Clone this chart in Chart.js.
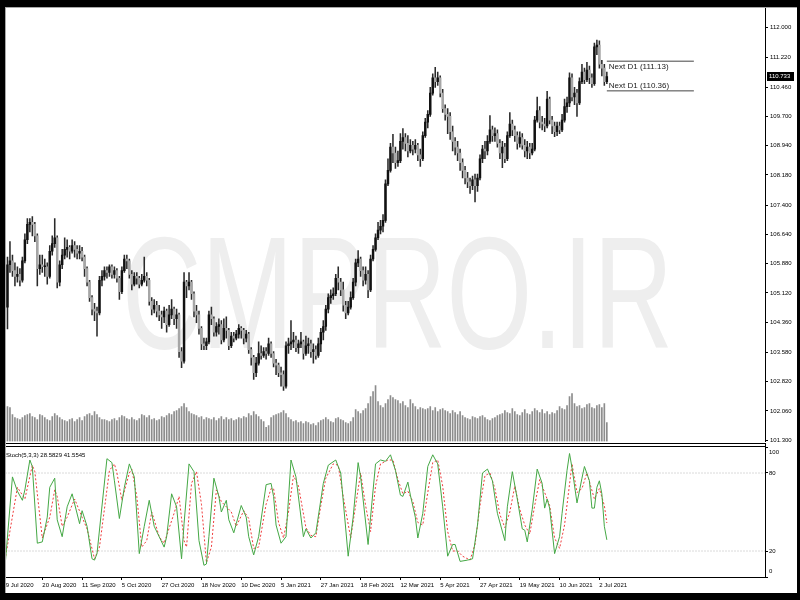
<!DOCTYPE html>
<html>
<head>
<meta charset="utf-8">
<script src="https://cdn.jsdelivr.net/npm/chart.js@4.4.1/dist/chart.umd.min.js"></script>
<style>
html, body { margin: 0; padding: 0; background: #000; }
#wrap { position: relative; width: 800px; height: 600px; overflow: hidden; }
#main { position: absolute; left: 0; top: 0; }
#osc { position: absolute; left: 0; top: 447px; }
</style>
</head>
<body>
<div id="wrap">
  <canvas id="main" width="800" height="447"></canvas>
  <canvas id="osc" width="800" height="153"></canvas>
</div>
<script>
// USDJPY D1, bar index 0 = 29 Jul 2020 (first drawn bar is index 1)
const firstBar = 1;

const opens = [
  105.10,104.75,105.85,105.95,105.70,105.55,105.60,105.45,105.95,106.50,
  106.90,106.95,106.90,106.60,105.75,105.85,105.80,105.80,105.55,106.20,
  106.40,106.55,105.40,105.85,106.10,106.25,106.30,106.20,106.35,106.25,
  106.15,106.20,106.05,105.75,105.40,105.00,104.70,104.65,104.60,105.45,
  105.55,105.70,105.65,105.80,105.60,105.70,105.50,105.15,105.70,106.00,
  105.95,105.60,105.35,105.55,105.50,105.35,105.45,105.55,105.45,104.90,
  104.70,104.80,104.65,104.55,104.50,104.65,104.30,104.55,104.70,104.45,
  104.55,103.60,103.35,105.40,105.30,105.40,105.10,104.65,104.55,104.20,
  103.80,103.75,103.85,104.55,104.45,104.10,104.25,104.30,103.90,104.20,
  104.15,103.75,104.00,103.95,104.05,104.20,104.15,103.95,104.05,103.65,
  103.45,103.05,103.30,103.55,103.50,103.60,103.55,103.80,103.55,103.30,
  103.25,103.05,103.00,102.70,103.75,103.80,103.85,103.90,103.70,103.80,
  103.85,103.55,103.75,103.80,103.60,103.65,103.50,103.80,104.10,104.25,
  104.70,105.00,105.05,105.10,105.50,105.40,105.20,104.80,104.60,104.75,
  105.00,105.40,105.90,106.00,105.70,105.45,105.60,105.20,106.00,106.25,
  106.55,106.75,106.85,107.00,107.95,108.30,108.90,108.75,108.50,108.55,
  109.05,109.15,109.00,108.80,108.95,108.85,108.95,108.70,108.60,109.20,
  109.55,109.75,110.30,110.70,110.60,110.70,110.30,109.90,109.75,109.70,
  109.30,109.05,108.90,108.75,108.50,108.30,108.10,108.00,107.90,108.05,
  107.90,108.10,108.60,108.85,108.80,109.05,109.35,109.20,109.25,109.00,
  108.75,108.90,108.60,109.20,109.50,109.35,109.20,109.00,109.15,108.95,
  108.80,108.90,108.75,108.85,109.60,109.85,109.55,109.50,109.45,110.15,
  109.60,109.45,109.30,109.45,109.35,109.60,109.95,110.05,110.70,110.20,
  110.30,110.05,110.60,110.85,110.65,110.90,110.70,110.55,111.50,111.55,
  111.05,110.95,110.60
];
const highs = [
  105.30,106.05,106.45,106.10,105.90,105.80,105.75,106.05,106.65,107.05,
  107.05,107.10,106.95,106.65,106.10,106.10,106.00,105.90,106.35,106.60,
  107.05,106.60,105.95,106.25,106.55,106.50,106.35,106.50,106.45,106.35,
  106.35,106.30,106.10,105.80,105.45,105.05,104.85,104.75,105.55,105.70,
  105.80,105.80,105.85,105.85,105.80,105.75,105.55,105.80,106.10,106.10,
  106.00,105.70,105.65,105.65,105.55,105.60,106.05,105.65,105.50,105.00,
  104.95,104.90,104.80,104.65,104.75,104.70,104.80,104.95,104.75,104.70,
  104.60,103.70,105.65,105.45,105.65,105.45,105.15,104.80,104.65,104.25,
  103.95,103.95,104.65,104.75,104.50,104.35,104.45,104.40,104.45,104.50,
  104.20,104.10,104.10,104.15,104.30,104.25,104.20,104.15,104.10,103.70,
  103.50,103.45,103.85,103.75,103.70,103.70,103.95,103.85,103.60,103.40,
  103.30,103.20,103.10,103.85,103.95,104.40,104.10,104.00,103.90,104.10,
  103.90,104.00,103.95,103.90,103.80,103.75,103.95,104.20,104.40,104.80,
  105.10,105.20,105.25,105.60,105.80,105.50,105.40,104.90,104.90,105.15,
  105.50,106.00,106.22,106.05,105.80,105.80,105.70,106.10,106.35,106.65,
  106.95,107.00,107.15,108.05,108.60,109.00,109.23,108.90,108.80,109.25,
  109.38,109.25,109.20,109.10,109.05,109.10,109.00,108.85,109.30,109.65,
  109.85,110.45,110.80,110.97,110.85,110.75,110.40,110.00,109.90,109.80,
  109.45,109.15,109.05,108.85,108.60,108.40,108.25,108.10,108.15,108.20,
  108.20,108.70,108.95,109.05,109.20,109.72,109.45,109.40,109.35,109.10,
  109.05,109.00,109.30,109.80,109.60,109.45,109.30,109.30,109.25,109.10,
  109.05,109.00,109.00,109.70,110.20,109.95,109.70,109.65,110.35,110.20,
  109.70,109.55,109.55,109.55,109.75,110.15,110.20,110.83,110.80,110.45,
  110.40,110.70,111.05,110.95,111.10,111.00,110.80,111.60,111.68,111.66,
  111.15,111.05,110.85
];
const lows = [
  104.70,104.19,105.65,105.55,105.30,105.40,105.30,105.40,105.90,106.40,
  106.70,106.60,106.45,105.30,105.60,105.65,105.55,105.35,105.50,106.10,
  106.30,105.25,105.30,105.75,106.00,106.05,106.00,106.15,106.05,106.00,
  106.00,105.95,105.55,105.30,104.90,104.55,104.40,104.00,104.55,105.30,
  105.45,105.50,105.55,105.50,105.50,105.40,104.95,105.10,105.65,105.75,
  105.50,105.20,105.30,105.35,105.25,105.30,105.40,105.30,104.80,104.55,
  104.60,104.50,104.40,104.20,104.35,104.10,104.25,104.45,104.30,104.20,
  103.45,103.18,103.30,105.00,105.20,104.95,104.50,104.35,104.05,103.65,
  103.65,103.65,103.80,104.30,104.00,104.00,104.05,103.80,103.85,103.95,
  103.65,103.70,103.85,103.90,103.95,103.95,103.80,103.85,103.55,103.25,
  102.88,102.95,103.25,103.40,103.45,103.40,103.50,103.45,103.20,103.00,
  102.95,102.70,102.59,102.65,103.55,103.65,103.70,103.60,103.55,103.70,
  103.40,103.50,103.55,103.45,103.30,103.40,103.45,103.60,103.90,104.15,
  104.60,104.85,104.95,105.05,105.20,105.05,104.65,104.45,104.55,104.70,
  104.95,105.30,105.80,105.55,105.30,105.35,105.00,105.15,105.95,106.20,
  106.50,106.65,106.70,106.95,107.90,108.25,108.50,108.35,108.40,108.50,
  108.85,108.80,108.65,108.75,108.70,108.75,108.55,108.40,108.55,109.15,
  109.40,109.70,110.25,110.45,110.50,110.20,109.80,109.60,109.25,109.10,
  108.80,108.70,108.55,108.30,108.10,107.95,107.85,107.70,107.80,107.48,
  107.75,108.05,108.50,108.60,108.70,109.00,109.05,109.05,108.90,108.60,
  108.37,108.50,108.55,109.15,109.20,109.05,108.85,108.90,108.85,108.65,
  108.60,108.60,108.70,108.80,109.55,109.40,109.35,109.30,109.40,109.50,
  109.25,109.17,109.20,109.25,109.30,109.55,109.80,109.95,110.10,110.00,
  109.70,110.00,110.55,110.55,110.60,110.55,110.45,110.50,111.30,110.95,
  110.75,110.50,110.55
];
const closes = [
  104.75,105.85,105.95,105.70,105.55,105.60,105.45,105.95,106.50,106.90,
  106.95,106.90,106.60,105.75,105.85,105.80,105.80,105.55,106.20,106.40,
  106.55,105.40,105.85,106.10,106.25,106.30,106.20,106.35,106.25,106.15,
  106.20,106.05,105.75,105.40,105.00,104.70,104.65,104.60,105.45,105.55,
  105.70,105.65,105.80,105.60,105.70,105.50,105.15,105.70,106.00,105.95,
  105.60,105.35,105.55,105.50,105.35,105.45,105.55,105.45,104.90,104.70,
  104.80,104.65,104.55,104.50,104.65,104.30,104.55,104.70,104.45,104.55,
  103.60,103.35,105.40,105.30,105.40,105.10,104.65,104.55,104.20,103.80,
  103.75,103.85,104.55,104.45,104.10,104.25,104.30,103.90,104.20,104.15,
  103.75,104.00,103.95,104.05,104.20,104.15,103.95,104.05,103.65,103.45,
  103.05,103.30,103.55,103.50,103.60,103.55,103.80,103.55,103.30,103.25,
  103.05,103.00,102.70,103.75,103.80,103.85,103.90,103.70,103.80,103.85,
  103.55,103.75,103.80,103.60,103.65,103.50,103.80,104.10,104.25,104.70,
  105.00,105.05,105.10,105.50,105.40,105.20,104.80,104.60,104.75,105.00,
  105.40,105.90,106.00,105.70,105.45,105.60,105.20,106.00,106.25,106.55,
  106.75,106.85,107.00,107.95,108.30,108.90,108.75,108.50,108.55,109.05,
  109.15,109.00,108.80,108.95,108.85,108.95,108.70,108.60,109.20,109.55,
  109.75,110.30,110.70,110.60,110.70,110.30,109.90,109.75,109.70,109.30,
  109.05,108.90,108.75,108.50,108.30,108.10,108.00,107.90,108.05,107.90,
  108.10,108.60,108.85,108.80,109.05,109.35,109.20,109.25,109.00,108.75,
  108.90,108.60,109.20,109.50,109.35,109.20,109.00,109.15,108.95,108.80,
  108.90,108.75,108.85,109.60,109.85,109.55,109.50,109.45,110.15,109.60,
  109.45,109.30,109.45,109.35,109.60,109.95,110.05,110.70,110.20,110.30,
  110.05,110.60,110.85,110.65,110.90,110.70,110.55,111.50,111.55,111.05,
  110.95,110.60,110.73
];
const volumes = [
  30,35,34,27,24,23,22,24,26,27,
  28,25,24,22,27,26,24,22,21,25,
  28,26,24,22,21,20,22,23,20,22,
  24,21,25,27,28,26,30,27,24,22,
  22,21,20,22,23,21,24,26,25,23,
  22,24,22,21,23,27,26,24,26,22,
  23,21,22,25,24,26,28,27,30,31,
  33,35,38,34,30,28,27,26,24,25,
  22,24,23,22,24,21,23,25,22,24,
  22,23,21,22,24,23,25,24,28,26,
  30,27,25,22,20,14,16,24,26,27,
  28,29,31,28,24,22,20,21,19,20,
  18,20,19,17,18,16,19,21,22,24,
  22,20,19,23,24,22,21,19,18,20,
  24,32,30,28,31,33,38,45,50,56,
  40,36,34,38,42,46,44,42,41,38,
  40,36,34,42,38,35,32,34,33,32,
  33,35,31,34,30,32,33,31,30,28,
  31,29,27,30,26,24,23,22,25,24,
  23,25,26,24,22,21,23,24,26,27,
  28,31,29,28,33,30,27,26,29,32,
  28,27,30,33,31,29,32,28,30,27,
  29,28,31,35,33,32,36,45,48,38,
  35,36,33,34,37,38,34,33,36,37,
  34,38,19
];

// Stochastic (5,3,3), [bar index, value] read at the turning points
const stochK = [
  [1,8],[4,77],[6,66],[8,59],[9,67],[11,90],[12,85],[14,26],[16,27],[18,46],[19,69],[21,76],
  [22,44],[24,31],[26,54],[28,64],[31,41],[32,51],[34,39],[36,14],[37,13],[38,18],[42,91],
  [44,88],[45,74],[47,45],[49,69],[51,87],[53,77],[55,18],[57,39],[59,59],[61,39],[63,31],
  [65,23],[66,31],[68,64],[70,54],[72,14],[73,41],[75,87],[77,81],[79,28],[81,9],[82,10],
  [83,31],[85,76],[87,62],[88,50],[90,59],[91,44],[93,34],[94,41],[96,55],[98,46],[99,31],
  [101,17],[103,31],[106,71],[108,72],[109,62],[110,40],[112,26],[114,31],[116,90],[118,77],
  [121,31],[122,37],[124,30],[126,34],[129,72],[131,86],[134,90],[136,80],[139,16],[141,46],
  [143,88],[144,77],[147,25],[148,46],[150,87],[152,90],[154,89],[156,94],[158,82],[160,63],
  [161,62],[163,73],[164,63],[166,46],[167,30],[169,49],[171,85],[173,94],[175,87],[177,54],
  [179,16],[181,25],[182,25],[184,12],[187,13],[189,14],[191,40],[193,80],[195,83],[197,74],
  [199,49],[202,28],[203,54],[205,81],[207,60],[209,37],[210,36],[211,27],[213,52],[215,83],
  [217,72],[218,53],[219,60],[220,53],[222,18],[224,31],[225,49],[227,82],[228,95],[229,84],
  [231,57],[233,76],[234,85],[236,74],[237,53],[238,53],[239,69],[240,74],[241,64],[242,39],
  [243,28.5829]
];
const stochD = [
  [1,13],[6,69],[8,63],[9,60],[12,86],[13,81],[16,30],[19,46],[21,67],[22,62],[24,39],[26,46],
  [29,60],[32,46],[34,37],[37,14],[39,23],[43,82],[45,87],[46,80],[48,59],[51,80],[52,83],
  [54,62],[56,23],[58,28],[60,50],[61,44],[63,31],[65,26],[69,49],[71,62],[73,28],[74,23],
  [76,72],[78,81],[80,56],[82,11],[84,23],[86,67],[88,58],[90,54],[92,50],[94,39],[97,51],
  [99,45],[101,22],[103,23],[106,56],[108,68],[109,68],[111,42],[113,30],[115,50],[117,78],
  [119,70],[122,38],[124,32],[126,31],[128,55],[130,76],[133,87],[135,86],[137,62],[140,30],
  [142,55],[144,80],[146,55],[148,35],[150,70],[152,87],[155,90],[157,90],[159,75],[161,64],
  [163,66],[165,58],[167,42],[169,40],[171,65],[173,88],[175,90],[177,70],[179,35],[181,20],
  [183,20],[185,16],[188,13],[190,25],[192,55],[194,78],[196,80],[198,68],[200,48],[202,38],
  [204,50],[206,70],[208,52],[210,40],[212,33],[214,55],[216,75],[218,65],[220,55],[222,30],
  [224,22],[226,40],[229,87],[231,65],[233,68],[235,80],[238,60],[240,68],[242,55],[243,41.5545]
];
const stochLevels = [20, 80];
const stochTicks = [0, 20, 80, 100];
const stochTitle = 'Stoch(5,3,3) 28.5829 41.5545';

const priceTicks = [112.000,111.220,110.460,109.700,108.940,108.180,107.400,106.640,
  105.880,105.120,104.360,103.580,102.820,102.060,101.300];
const dateTicks = [0,16,32,48,64,80,96,112,128,144,160,176,192,208,224,240];
const dateLabels = ['29 Jul 2020','20 Aug 2020','11 Sep 2020','5 Oct 2020','27 Oct 2020',
  '18 Nov 2020','10 Dec 2020','5 Jan 2021','27 Jan 2021','18 Feb 2021','12 Mar 2021',
  '5 Apr 2021','27 Apr 2021','19 May 2021','10 Jun 2021','2 Jul 2021'];

const lastPrice = 110.733;
const nextLevels = [111.13, 110.36];
const nextLabels = ['Next D1 (111.13)', 'Next D1 (110.36)'];
const nextFrom = 243, nextTo = 278;
const watermark = 'CMPRO.IR';

const FONT = '"Liberation Sans", Arial, sans-serif';
const xMin = 0, xMax = 306.6;

const bars = closes.map((c, i) => firstBar + i);
const wickData = bars.map((x, i) => ({ x, y: [lows[i], highs[i]] }));
const bodyData = bars.map((x, i) => ({ x, y: [opens[i], closes[i]] }));
const bodyColors = bars.map((x, i) => closes[i] >= opens[i] ? '#111111' : '#a6a6a6');
const volData = bars.map((x, i) => ({ x, y: volumes[i] }));

const nextSets = nextLevels.map(v => ({
  type: 'line',
  data: [{ x: nextFrom, y: v }, { x: nextTo, y: v }],
  yAxisID: 'y', borderColor: '#444', borderWidth: 1, pointRadius: 0, order: 1
}));

const mainPlugin = {
  id: 'mainPlugin',
  beforeDraw(chart) {
    const c = chart.ctx;
    c.save();
    c.fillStyle = '#fff';
    c.fillRect(0, 0, chart.width, chart.height);
    c.restore();
  },
  beforeDatasetsDraw(chart) {
    const c = chart.ctx;
    c.save();
    c.font = '160px ' + FONT;
    c.fillStyle = '#eeeeee';
    c.textBaseline = 'alphabetic';
    const w = c.measureText(watermark).width;
    c.translate(122, 348);
    c.scale(551 / w, 1);
    c.fillText(watermark, 0, 0);
    c.restore();
  },
  afterDatasetsDraw(chart) {
    const c = chart.ctx, xs = chart.scales.x, ys = chart.scales.y;
    c.save();
    c.font = '8px ' + FONT;
    c.fillStyle = '#222';
    c.textAlign = 'left';
    const x0 = xs.getPixelForValue(nextFrom) + 2;
    c.textBaseline = 'top';
    c.fillText(nextLabels[0], x0, ys.getPixelForValue(nextLevels[0]) + 2);
    c.textBaseline = 'bottom';
    c.fillText(nextLabels[1], x0, ys.getPixelForValue(nextLevels[1]) - 1);
    c.restore();
  },
  afterDraw(chart) {
    const c = chart.ctx, a = chart.chartArea, ys = chart.scales.y;
    c.save();
    c.fillStyle = '#000';
    c.fillRect(a.left, 443, a.right - a.left, 1);
    c.fillRect(a.left, 446, a.right - a.left, 1);
    c.fillRect(765, 443, 1, 4);
    const py = Math.round(ys.getPixelForValue(lastPrice));
    c.fillRect(767, py - 4, 27, 9);
    c.fillStyle = '#fff';
    c.font = '6px ' + FONT;
    c.textBaseline = 'middle';
    c.textAlign = 'left';
    c.fillText(lastPrice.toFixed(3), 769, py + 0.5);
    c.fillStyle = '#000';
    c.fillRect(0, 0, 800, 7);
    c.fillRect(0, 0, 5, 447);
    c.fillRect(797, 0, 3, 447);
    c.fillStyle = '#a8a8a8';
    c.fillRect(5, 7, 792, 1);
    c.fillRect(5, 7, 1, 440);
    c.restore();
  }
};

new Chart(document.getElementById('main'), {
  type: 'bar',
  data: {
    datasets: [
      { label: 'Volume', data: volData, yAxisID: 'yv', backgroundColor: '#8c8c8c',
        barThickness: 1, grouped: false, order: 5 },
      { label: 'Wick', data: wickData, yAxisID: 'y', backgroundColor: '#2a2a2a',
        barThickness: 0.9, grouped: false, order: 4 },
      { label: 'Body', data: bodyData, yAxisID: 'y', backgroundColor: bodyColors,
        barThickness: 1.8, grouped: false, minBarLength: 1, order: 3 },
      ...nextSets
    ]
  },
  options: {
    responsive: false, animation: false, devicePixelRatio: 1, events: [],
    layout: { padding: { left: 2.5, top: 7, right: 3, bottom: 4 } },
    plugins: { legend: { display: false }, tooltip: { enabled: false } },
    scales: {
      x: { type: 'linear', min: xMin, max: xMax, offset: false, display: false },
      y: {
        position: 'right', min: 101.27, max: 112.535,
        afterBuildTicks: s => { s.ticks = priceTicks.map(v => ({ value: v })); },
        afterFit: s => { s.width = 32; },
        ticks: { autoSkip: false, font: { family: FONT, size: 6 }, color: '#000', padding: 2,
          callback: v => Number(v).toFixed(3) },
        grid: { drawOnChartArea: false, tickLength: 3, color: '#000' },
        border: { color: '#000' }
      },
      yv: { display: false, min: 0, max: 436 }
    }
  },
  plugins: [mainPlugin]
});

const oscPlugin = {
  id: 'oscPlugin',
  beforeDraw(chart) {
    const c = chart.ctx;
    c.save();
    c.fillStyle = '#fff';
    c.fillRect(0, 0, chart.width, chart.height);
    c.restore();
  },
  afterDraw(chart) {
    const c = chart.ctx, a = chart.chartArea, ys = chart.scales.y;
    c.save();
    c.font = '6px ' + FONT;
    c.fillStyle = '#000';
    c.textAlign = 'left';
    c.textBaseline = 'middle';
    stochTicks.forEach(v => {
      let y = ys.getPixelForValue(v);
      if (v === 100) y += 5;
      if (v === 0) y -= 6;
      c.fillText(String(v), a.right + 4, y);
    });
    c.fillText(stochTitle, 6, 8);
    c.fillStyle = '#000';
    c.fillRect(0, 0, 5, 153);
    c.fillRect(797, 0, 3, 153);
    c.fillRect(0, 146, 800, 7);
    c.fillStyle = '#a8a8a8';
    c.fillRect(5, 0, 1, 146);
    c.restore();
  }
};

new Chart(document.getElementById('osc'), {
  type: 'line',
  data: {
    datasets: [
      { label: 'Main', data: stochK.map(p => ({ x: p[0], y: p[1] })), borderColor: '#45a845',
        borderWidth: 1, pointRadius: 0, order: 1 },
      { label: 'Signal', data: stochD.map(p => ({ x: p[0], y: p[1] })), borderColor: '#f03c3c',
        borderWidth: 1, borderDash: [2, 2], pointRadius: 0, order: 2 },
      ...stochLevels.map(v => ({
        data: [{ x: xMin, y: v }, { x: xMax, y: v }], borderColor: '#b4b4b4',
        borderWidth: 1, borderDash: [1, 2], pointRadius: 0, order: 3
      }))
    ]
  },
  options: {
    responsive: false, animation: false, devicePixelRatio: 1, events: [],
    layout: { padding: { left: 2.5, top: 0, right: 3, bottom: 7 } },
    plugins: { legend: { display: false }, tooltip: { enabled: false } },
    scales: {
      x: {
        type: 'linear', min: xMin, max: xMax, offset: false,
        afterBuildTicks: s => { s.ticks = dateTicks.map(v => ({ value: v })); },
        afterFit: s => { s.height = 16; },
        ticks: { autoSkip: false, maxRotation: 0, align: 'start', font: { family: FONT, size: 6 },
          color: '#000', padding: 2, callback: (v, i) => dateLabels[i] },
        grid: { drawOnChartArea: false, tickLength: 3, color: '#000' },
        border: { color: '#000' }
      },
      y: {
        position: 'right', min: 0, max: 100,
        afterBuildTicks: s => { s.ticks = stochTicks.map(v => ({ value: v })); },
        afterFit: s => { s.width = 32; },
        ticks: { display: false },
        grid: { drawOnChartArea: false, tickLength: 3, color: '#000' },
        border: { color: '#000' }
      }
    }
  },
  plugins: [oscPlugin]
});
</script>
</body>
</html>
